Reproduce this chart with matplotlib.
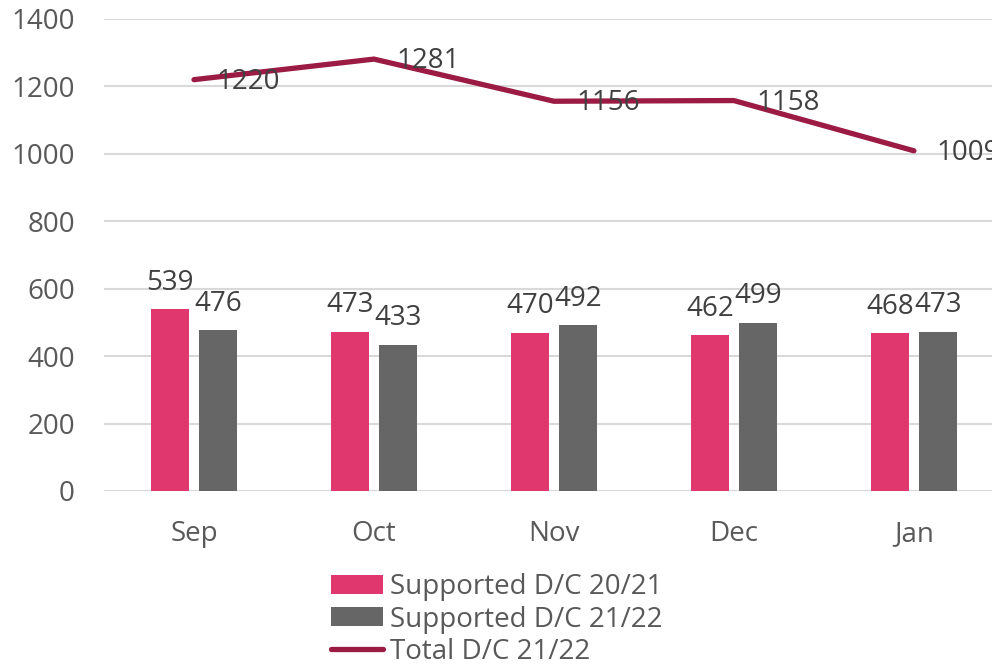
import matplotlib
matplotlib.use("Agg")
from matplotlib import pyplot as plt
import numpy as np

months = ["Sep", "Oct", "Nov", "Dec", "Jan"]
supported_2021 = [539, 473, 470, 462, 468]
supported_2122 = [476, 433, 492, 499, 473]
total_2122 = [1220, 1281, 1156, 1158, 1009]

pink = "#E0376F"
grey = "#666666"
maroon = "#9B1B45"
label_col = "#404040"
tick_col = "#595959"
fs = 20

plt.rcParams["font.family"] = ["Open Sans", "DejaVu Sans"]

fig = plt.figure(figsize=(9.92, 6.68), dpi=100)
ax = fig.add_axes([0.1048, 0.265, 0.9072, 0.7066])

x = np.arange(len(months))
w = 0.211
off = 0.133

b1 = ax.bar(x - off, supported_2021, w, color=pink, label="Supported D/C 20/21", zorder=2)
b2 = ax.bar(x + off, supported_2122, w, color=grey, label="Supported D/C 21/22", zorder=2)
ln, = ax.plot(x, total_2122, color=maroon, linewidth=3.8, solid_capstyle="round",
              label="Total D/C 21/22", zorder=3)

for rect, v in zip(list(b1) + list(b2), supported_2021 + supported_2122):
    ax.annotate(str(v), xy=(rect.get_x() + rect.get_width() / 2, v),
                xytext=(0, 9), textcoords="offset points",
                ha="center", va="bottom", fontsize=fs, color=label_col)

for xi, v in zip(x, total_2122):
    ax.annotate(str(v), xy=(xi, v), xytext=(16, -1.5), textcoords="offset points",
                ha="left", va="center", fontsize=fs, color=label_col, zorder=4)

ax.set_xlim(-0.5, len(months) - 0.5)
ax.set_ylim(0, 1400)
ax.set_yticks(np.arange(0, 1401, 200))
ax.set_xticks(x)
ax.set_xticklabels(months)
ax.tick_params(axis="both", length=0, labelsize=fs, colors=tick_col)
ax.tick_params(axis="x", pad=21)
ax.tick_params(axis="y", pad=21)
ax.yaxis.grid(True, color="#D9D9D9", linewidth=1.5, zorder=0)
ax.set_axisbelow(True)
for s in ax.spines.values():
    s.set_visible(False)

leg = fig.legend(handles=[b1, b2, ln], loc="upper left", bbox_to_anchor=(0.3196, 0.1625),
                 frameon=False, fontsize=fs, labelcolor=tick_col,
                 handlelength=1.87, handleheight=0.65, handletextpad=0.25,
                 labelspacing=0.15, borderpad=0)

fig.savefig("out.png", dpi=100)
